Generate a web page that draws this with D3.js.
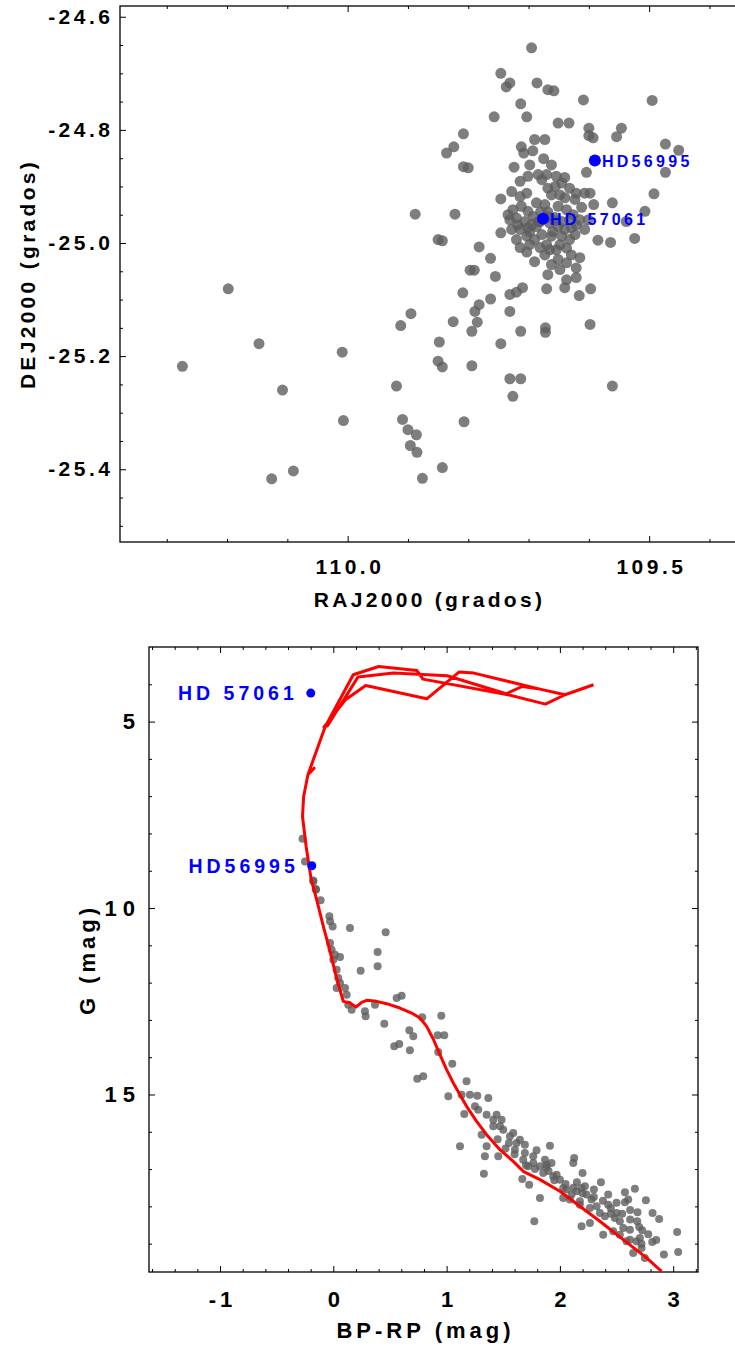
<!DOCTYPE html>
<html><head><meta charset="utf-8">
<script src="https://cdn.jsdelivr.net/npm/d3@7"></script>
<style>
body{margin:0;background:#fff;}
svg{display:block;}
</style></head><body>
<svg id="c" width="735" height="1346"></svg>
<script>
// ---------------- DATA ----------------
// Panel 1: sky positions of cluster members (degrees)
const fieldRA = [109.695,109.746,109.731,109.737,109.686,109.668,109.658,109.609,109.495,109.713,109.757,109.703,109.651,109.633,109.600,109.600,109.593,109.546,109.554,109.808,109.690,109.673,109.824,109.836,109.712,109.708,109.693,109.473,109.451,109.675,109.808,109.800,109.724,109.662,109.604,109.473,109.492,109.561,109.507,109.888,109.822,109.538,109.524,109.585,109.564,109.850,109.843,109.746,109.746,109.782,109.763,109.703,109.797,109.790,109.755,109.637,109.621,109.670,109.640,109.597,109.616,109.809,109.763,109.731,109.720,109.710,
109.714,109.701,109.684,109.670,109.654,109.645,109.632,109.621,109.607,109.598,109.728,109.714,109.703,109.668,109.656,109.662,109.648,109.640,109.726,109.712,109.701,109.687,109.673,109.651,109.637,109.626,109.615,109.601,109.731,109.720,109.706,109.692,109.728,109.714,109.701,109.687,109.665,109.651,109.640,109.629,109.621,109.720,109.703,109.690,109.678,109.662,109.645,109.632,109.670,109.673,109.654,109.637,109.629,109.615,109.651,109.662,109.637,109.621,
109.683,109.668,109.694,109.657,109.680,109.660,
109.734,109.718,109.698,109.681,109.668,109.656,109.645,109.632,109.623,109.607,109.648,109.665,109.681,109.698,109.714,109.648,109.668,109.690,109.678,109.640,109.623,109.612,109.592,109.698,
109.782,109.789,109.785,109.794,109.731,109.895,109.912,109.825,109.713,109.672,109.672,109.598,109.848,109.746,109.850,109.843,109.794,109.731,109.713,109.561,109.919,109.726,109.909,109.900,109.886,109.896,109.885,109.807,109.843,109.876,
110.198,110.147,110.274,110.108,110.009,110.007,110.090,110.126];
const fieldDec = [-24.655,-24.700,-24.717,-24.724,-24.717,-24.729,-24.731,-24.747,-24.748,-24.754,-24.777,-24.777,-24.788,-24.788,-24.797,-24.810,-24.814,-24.797,-24.812,-24.807,-24.817,-24.817,-24.830,-24.841,-24.830,-24.841,-24.837,-24.825,-24.836,-24.851,-24.865,-24.867,-24.866,-24.862,-24.875,-24.875,-24.913,-24.929,-24.944,-24.949,-24.949,-24.962,-24.992,-24.995,-24.999,-24.994,-24.996,-24.922,-24.982,-25.007,-25.027,-25.016,-25.048,-25.048,-25.059,-25.065,-25.061,-25.081,-25.079,-25.081,-25.093,-25.088,-25.099,-25.091,-25.087,-25.079,
-24.891,-24.882,-24.879,-24.879,-24.882,-24.894,-24.903,-24.912,-24.912,-24.912,-24.909,-24.918,-24.912,-24.903,-24.900,-24.915,-24.915,-24.920,-24.941,-24.935,-24.944,-24.929,-24.932,-24.935,-24.941,-24.950,-24.959,-24.959,-24.959,-24.956,-24.962,-24.953,-24.976,-24.976,-24.973,-24.971,-24.965,-24.971,-24.976,-24.973,-24.968,-24.994,-24.988,-24.994,-24.985,-24.988,-24.988,-24.994,-25.003,-25.021,-25.012,-25.009,-25.021,-25.026,-25.029,-25.038,-25.035,-25.044,
-24.962,-24.953,-24.967,-24.960,-24.945,-24.980,
-24.950,-24.968,-24.980,-24.962,-24.945,-24.955,-24.962,-24.959,-24.985,-24.976,-25.003,-25.012,-25.008,-25.003,-25.008,-25.047,-25.056,-25.033,-24.888,-24.884,-24.923,-24.937,-24.932,-24.862,
-25.109,-25.121,-25.140,-25.156,-25.121,-25.125,-25.146,-25.139,-25.156,-25.150,-25.158,-25.144,-25.175,-25.178,-25.209,-25.219,-25.217,-25.240,-25.240,-25.253,-25.253,-25.271,-25.312,-25.330,-25.339,-25.358,-25.370,-25.316,-25.397,-25.416,
-25.081,-25.178,-25.218,-25.260,-25.193,-25.314,-25.403,-25.417];

// Panel 2: colour-magnitude diagram of members
const cmdBPRP = [-0.272,-0.250,-0.177,-0.155,-0.176,-0.153,-0.112,-0.035,-0.029,-0.006,0.147,0.462,-0.029,-0.015,0.015,0.059,0.000,0.029,0.241,0.391,0.391,0.044,0.059,0.103,0.029,0.118,0.132,0.162,0.279,0.285,0.368,0.559,0.603,0.450,0.785,0.953,0.671,0.706,0.538,0.582,0.676,0.921,0.979,0.926,1.050,0.741,0.794,1.015,1.176,1.132,1.206,1.271,1.368,1.156,1.250,1.279,1.353,1.441,1.485,1.412,1.500,1.588,1.309,1.353,1.338,1.456,1.118,1.329,1.691,1.618,1.691,1.794,1.912,1.765,1.824,1.882,1.926,1.676,1.721,1.853,1.941,1.971,1.668,1.729,1.824,2.126,2.118,2.200,2.059,2.103,2.147,2.191,2.221,2.029,2.088,2.176,2.279,2.265,2.176,2.362,2.426,2.426,2.353,2.397,2.485,2.529,2.559,2.618,2.574,2.603,2.662,2.574,2.759,2.685,2.682,2.726,2.818,2.876,2.815,2.676,2.721,2.750,2.647,3.035,3.044,2.918,2.191,2.265,2.382,2.471,2.588,1.774,2.529,1.412,1.471,1.559,1.647,1.603,1.765,1.868,2.000,2.029,2.235,2.324,2.500,2.618,2.706,
1.45,1.52,1.60,1.70,1.78,1.90,1.95,2.05,2.12,2.20,2.30,2.38,2.45,2.55,2.62,2.70,2.78,2.85,2.30,2.50,1.55,1.88,2.15,2.45,2.62,2.72];
const cmdG = [8.142,8.751,9.260,9.490,9.285,9.508,9.794,10.223,10.357,10.492,10.536,10.652,10.938,11.117,11.251,11.314,11.385,11.653,11.680,11.180,11.564,11.877,12.011,12.145,12.145,12.324,12.592,12.726,12.770,12.904,12.592,12.413,12.350,13.101,12.931,12.886,13.280,13.441,13.709,13.646,13.816,13.414,13.414,13.861,14.173,14.576,14.513,15.049,14.647,15.004,15.004,15.031,15.094,15.523,15.317,15.407,15.541,15.541,15.675,15.853,15.943,16.032,16.077,16.390,16.658,16.658,16.390,17.122,16.345,16.300,16.568,16.497,16.372,16.836,16.926,16.881,16.836,16.747,16.926,17.105,17.194,17.149,17.265,17.417,17.775,16.702,16.836,17.105,17.551,17.685,17.596,17.507,17.462,17.775,17.819,17.864,17.819,18.043,17.954,17.355,17.685,17.954,18.177,18.266,18.311,18.400,18.579,18.624,17.623,17.819,17.525,17.891,17.837,18.159,18.400,18.642,18.177,18.338,18.954,18.937,19.115,19.383,19.249,18.686,19.222,19.294,18.534,18.445,18.758,18.668,18.937,18.400,18.758,15.675,15.853,16.122,16.211,16.479,16.658,16.747,17.283,17.507,17.685,17.998,18.177,18.892,18.847,
16.20,16.45,16.60,16.90,17.00,17.05,17.30,17.40,17.50,17.65,17.75,17.85,18.05,18.20,18.35,18.55,18.75,18.90,17.55,17.90,16.30,16.95,17.35,18.20,18.10,19.00];

// Isochrone (BP-RP, G)
const isoBPRP = [2.897,2.765,2.559,2.353,2.176,2.000,1.824,1.676,1.588,1.471,1.353,1.265,1.176,1.118,1.059,1.000,0.941,0.882,0.824,0.765,0.691,0.588,0.471,0.382,0.294,0.250,0.200,0.147,0.088,0.029,-0.029,-0.088,-0.147,-0.195,-0.240,-0.272,-0.262,-0.224,-0.170,-0.224,-0.073,0.176,0.400,0.737,0.791,1.541,1.872,2.045,1.824,1.667,1.525,1.005,0.532,0.217,-0.051,-0.083,0.107,0.286,0.825,1.109,1.241,1.824,2.045,2.297];
const isoG = [19.741,19.383,18.892,18.400,17.998,17.596,17.283,17.060,16.792,16.479,16.077,15.719,15.317,15.004,14.692,14.334,13.932,13.512,13.172,12.949,12.815,12.681,12.565,12.502,12.475,12.529,12.654,12.547,12.502,11.877,11.162,10.492,9.777,9.240,8.349,7.544,7.008,6.426,6.250,6.426,5.147,3.745,3.523,3.630,3.861,4.281,4.531,4.281,4.129,4.059,4.255,3.772,3.700,3.807,5.113,5.147,4.416,4.032,4.389,3.673,3.700,4.129,4.281,4.013];

// Highlighted stars
const starNames = ["HD56995", "HD 57061"];
const starRA   = [109.590, 109.676];
const starDec  = [-24.854, -24.957];
const starBPRP = [-0.190, -0.199];
const starGmag = [8.866, 4.236];

// Tick values
const raMajor = [110.0, 109.5];
const raMinor = [110.3,110.2,110.1,109.9,109.8,109.7,109.6,109.4];
const decMajor = [-24.6,-24.8,-25.0,-25.2,-25.4];
const decMinor = [-24.65,-24.7,-24.75,-24.85,-24.9,-24.95,-25.05,-25.1,-25.15,-25.25,-25.3,-25.35,-25.45,-25.5];
const bprpMajor = [-1,0,1,2,3];
const bprpMinor = [-1.6,-1.4,-1.2,-0.8,-0.6,-0.4,-0.2,0.2,0.4,0.6,0.8,1.2,1.4,1.6,1.8,2.2,2.4,2.6,2.8,3.2];
const gMajor = [5,10,15];
const gMinor = [4,6,7,8,9,11,12,13,14,16,17,18,19];

// ---------------- DRAW ----------------
const FONT = '"Liberation Sans", Arial, Helvetica, sans-serif';
const svg = d3.select("#c");
const GRAY = "#5e5e5e", BLUE = "#0000ff";

function styleAxis(g, size, ls, anchor){
  g.select(".domain").remove();
  g.attr("font-family", FONT).attr("font-size", size).attr("font-weight", "bold");
  g.selectAll(".tick line").attr("stroke", "#000").attr("stroke-width", 1);
  g.selectAll(".tick text").attr("fill", "#000").style("letter-spacing", ls + "px")
    .attr("dx", anchor === "end" ? ls : ls / 2);
}

// ===== Panel 1 =====
const p1 = {l:120, r:736, t:6, b:542};
const x1 = d3.scaleLinear().domain([110.3775, 109.356]).range([p1.l, p1.r]);
const y1 = d3.scaleLinear().domain([-24.581, -25.5286]).range([p1.t, p1.b]);
const f1 = d => d.toFixed(1);

const g1 = svg.append("g");
g1.append("g").attr("transform", `translate(0,${p1.b})`)
  .call(d3.axisBottom(x1).tickValues(raMajor).tickSize(-6).tickPadding(17).tickFormat(f1))
  .call(g => styleAxis(g, 21, 3.5, "middle"));
g1.append("g").attr("transform", `translate(0,${p1.b})`)
  .call(d3.axisBottom(x1).tickValues(raMinor).tickSize(-3).tickFormat(""))
  .call(g => styleAxis(g, 21, 0, "middle"));
g1.append("g").attr("transform", `translate(0,${p1.t})`)
  .call(d3.axisTop(x1).tickValues(raMajor).tickSize(-6).tickFormat(""))
  .call(g => styleAxis(g, 21, 0, "middle"));
g1.append("g").attr("transform", `translate(0,${p1.t})`)
  .call(d3.axisTop(x1).tickValues(raMinor).tickSize(-3).tickFormat(""))
  .call(g => styleAxis(g, 21, 0, "middle"));
g1.append("g").attr("transform", `translate(${p1.l},0)`)
  .call(d3.axisLeft(y1).tickValues(decMajor).tickSize(-6).tickPadding(10).tickFormat(f1))
  .call(g => styleAxis(g, 21, 3.5, "end"));
g1.append("g").attr("transform", `translate(${p1.l},0)`)
  .call(d3.axisLeft(y1).tickValues(decMinor).tickSize(-3).tickFormat(""))
  .call(g => styleAxis(g, 21, 0, "end"));
g1.append("rect").attr("x", p1.l).attr("y", p1.t).attr("width", p1.r - p1.l).attr("height", p1.b - p1.t)
  .attr("fill", "none").attr("stroke", "#000").attr("stroke-width", 1.3);

g1.append("clipPath").attr("id", "clip1").append("rect")
  .attr("x", p1.l).attr("y", p1.t).attr("width", p1.r - p1.l).attr("height", p1.b - p1.t);
const n1 = Math.min(fieldRA.length, fieldDec.length);
g1.append("g").attr("clip-path", "url(#clip1)").selectAll("circle")
  .data(d3.range(n1)).join("circle")
  .attr("cx", i => x1(fieldRA[i])).attr("cy", i => y1(fieldDec[i]))
  .attr("r", 5.5).attr("fill", GRAY).attr("fill-opacity", 0.8);

const s1 = g1.append("g");
s1.selectAll("circle").data(d3.range(starNames.length)).join("circle")
  .attr("cx", i => x1(starRA[i])).attr("cy", i => y1(starDec[i])).attr("r", 6).attr("fill", BLUE);
s1.selectAll("text").data(d3.range(starNames.length)).join("text")
  .attr("x", i => x1(starRA[i]) + 7).attr("y", i => y1(starDec[i]) + 1).attr("dy", "0.36em")
  .attr("font-family", FONT).attr("font-weight", "bold").attr("font-size", 16)
  .style("letter-spacing", "3.3px").attr("fill", BLUE).text(i => starNames[i]);

g1.append("text").attr("x", (p1.l + 735) / 2 + 2).attr("y", 607).attr("text-anchor", "middle")
  .attr("font-family", FONT).attr("font-weight", "bold").attr("font-size", 21)
  .style("letter-spacing", "3.3px").text("RAJ2000 (grados)");
g1.append("text").attr("transform", `translate(35,${(p1.t + p1.b) / 2}) rotate(-90)`).attr("text-anchor", "middle")
  .attr("font-family", FONT).attr("font-weight", "bold").attr("font-size", 21)
  .style("letter-spacing", "3.3px").text("DEJ2000 (grados)");

// ===== Panel 2 =====
const p2 = {l:149, r:698, t:647, b:1272};
const x2 = d3.scaleLinear().domain([-1.627, 3.219]).range([p2.l, p2.r]);
const y2 = d3.scaleLinear().domain([3.0, 19.76]).range([p2.t, p2.b]);
const f2 = d => String(d);

const g2 = svg.append("g");
g2.append("g").attr("transform", `translate(0,${p2.b})`)
  .call(d3.axisBottom(x2).tickValues(bprpMajor).tickSize(-6).tickPadding(19).tickFormat(f2))
  .call(g => styleAxis(g, 22, 4, "middle"));
g2.append("g").attr("transform", `translate(0,${p2.b})`)
  .call(d3.axisBottom(x2).tickValues(bprpMinor).tickSize(-3).tickFormat(""))
  .call(g => styleAxis(g, 22, 0, "middle"));
g2.append("g").attr("transform", `translate(0,${p2.t})`)
  .call(d3.axisTop(x2).tickValues(bprpMajor).tickSize(-6).tickFormat(""))
  .call(g => styleAxis(g, 22, 0, "middle"));
g2.append("g").attr("transform", `translate(0,${p2.t})`)
  .call(d3.axisTop(x2).tickValues(bprpMinor).tickSize(-3).tickFormat(""))
  .call(g => styleAxis(g, 22, 0, "middle"));
g2.append("g").attr("transform", `translate(${p2.l},0)`)
  .call(d3.axisLeft(y2).tickValues(gMajor).tickSize(-6).tickPadding(14).tickFormat(f2))
  .call(g => styleAxis(g, 22, 6, "end"));
g2.append("g").attr("transform", `translate(${p2.l},0)`)
  .call(d3.axisLeft(y2).tickValues(gMinor).tickSize(-3).tickFormat(""))
  .call(g => styleAxis(g, 22, 0, "end"));
g2.append("g").attr("transform", `translate(${p2.r},0)`)
  .call(d3.axisRight(y2).tickValues(gMajor).tickSize(-6).tickFormat(""))
  .call(g => styleAxis(g, 22, 0, "end"));
g2.append("g").attr("transform", `translate(${p2.r},0)`)
  .call(d3.axisRight(y2).tickValues(gMinor).tickSize(-3).tickFormat(""))
  .call(g => styleAxis(g, 22, 0, "end"));
g2.append("rect").attr("x", p2.l).attr("y", p2.t).attr("width", p2.r - p2.l).attr("height", p2.b - p2.t)
  .attr("fill", "none").attr("stroke", "#000").attr("stroke-width", 1.3);

g2.append("clipPath").attr("id", "clip2").append("rect")
  .attr("x", p2.l).attr("y", p2.t).attr("width", p2.r - p2.l).attr("height", p2.b - p2.t);
const n2 = Math.min(cmdBPRP.length, cmdG.length);
const plot2 = g2.append("g").attr("clip-path", "url(#clip2)");
plot2.append("g").selectAll("circle").data(d3.range(n2)).join("circle")
  .attr("cx", i => x2(cmdBPRP[i])).attr("cy", i => y2(cmdG[i]))
  .attr("r", 4).attr("fill", GRAY).attr("fill-opacity", 0.8);

const iso = d3.range(Math.min(isoBPRP.length, isoG.length));
plot2.append("path").datum(iso)
  .attr("d", d3.line().x(i => x2(isoBPRP[i])).y(i => y2(isoG[i])))
  .attr("fill", "none").attr("stroke", "#ff0000").attr("stroke-width", 3)
  .attr("stroke-linejoin", "round");

const s2 = g2.append("g");
s2.selectAll("circle").data(d3.range(starNames.length)).join("circle")
  .attr("cx", i => x2(starBPRP[i])).attr("cy", i => y2(starGmag[i])).attr("r", 4.5).attr("fill", BLUE);
s2.selectAll("text").data(d3.range(starNames.length)).join("text")
  .attr("x", i => x2(starBPRP[i]) - 13).attr("y", i => y2(starGmag[i])).attr("dy", "0.36em")
  .attr("text-anchor", "end")
  .attr("font-family", FONT).attr("font-weight", "bold").attr("font-size", 19.5)
  .style("letter-spacing", "4px").attr("fill", BLUE).text(i => starNames[i]);

g2.append("text").attr("x", (p2.l + p2.r) / 2 + 2).attr("y", 1338).attr("text-anchor", "middle")
  .attr("font-family", FONT).attr("font-weight", "bold").attr("font-size", 22)
  .style("letter-spacing", "4px").text("BP-RP (mag)");
g2.append("text").attr("transform", `translate(95,${(p2.t + p2.b) / 2}) rotate(-90)`).attr("text-anchor", "middle")
  .attr("font-family", FONT).attr("font-weight", "bold").attr("font-size", 22)
  .style("letter-spacing", "4px").text("G (mag)");
</script>
</body></html>
